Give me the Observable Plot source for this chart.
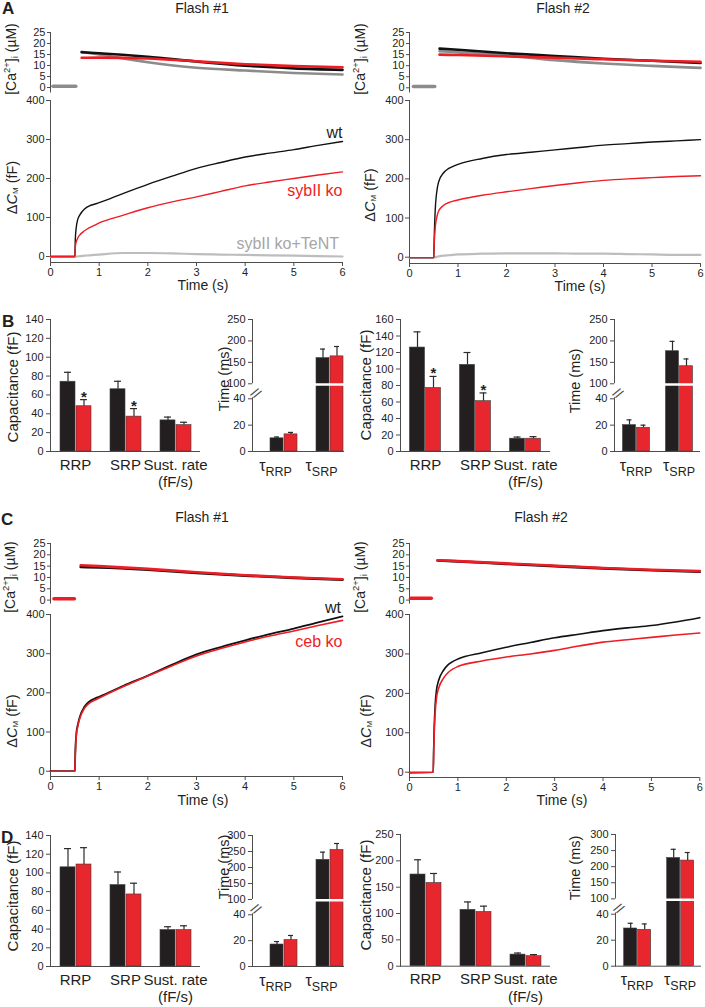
<!DOCTYPE html>
<html><head><meta charset="utf-8">
<script src="https://cdn.jsdelivr.net/npm/d3@7"></script>
<script src="https://cdn.jsdelivr.net/npm/@observablehq/plot@0.6"></script>
<style>
html,body{margin:0;padding:0;background:#fff;}
#fig{position:relative;width:705px;height:1007px;overflow:hidden;background:#fff;}
#fig svg{position:absolute;}
</style></head><body><div id="fig"></div>
<script>
// ---------------- DATA ----------------
// capacitance traces (fF) sampled at these times (s)
const capT = [0,0.49,0.5,0.51,0.53,0.56,0.6,0.7,0.8,0.9,1,1.5,2,2.5,3,3.5,4,4.5,5,5.5,6];
const capA1_wt   = [0,0,2,45,75,95,106,122,130,134,138,162,185,206,226,241,255,265,274,285,295];
const capA1_ko   = [0,0,2,25,38,47,55,66,74,80,86,106,125,140,153,167,181,191,200,209,217];
const capA1_tent = [-1,-1,-1,-1,0,0,1,2,3,4,5,9,9,8,6,5,4,3,2,1,0];
const capA2_wt   = [-1,-1,0,50,120,165,192,215,226,232,237,252,262,268,274,280,286,290,294,297,300];
const capA2_ko   = [-1,-1,0,35,75,100,118,132,139,143,146,158,167,175,183,190,196,200,203,206,208];
const capA2_tent = [-2,-2,-2,-1,0,1,2,4,5,6,7,9,10,10,10,9,9,8,7,6,6];
const capC1_wt   = [0,0,2,50,95,118,138,165,178,185,190,218,244,272,298,317,334,350,364,380,395];
const capC1_ko   = [0,0,2,45,90,114,134,161,174,181,187,216,243,269,294,313,330,345,358,372,385];
const capC2_wt   = [-1,0,60,110,170,210,232,258,273,281,287,303,317,329,341,350,359,366,372,381,392];
const capC2_ko   = [-1,0,50,95,150,190,212,238,253,262,268,282,292,300,309,320,330,336,342,348,353];

// [Ca2+]i traces (µM)
const caT_A1 = [0.64,1,2,3,4,5,6];
const caA1_wt   = [16,15.6,14,11.8,9.9,8.7,8];
const caA1_ko   = [13.5,13.6,13.2,11.9,10.6,9.7,9.2];
const caA1_tent = [16.2,15,11.5,9,7.7,6.6,5.9];
const caT_A2 = [0.62,1,2,3,4,5,6];
const caA2_wt   = [17.7,17.2,15.6,14.4,13.1,12.2,11.2];
const caA2_ko   = [15,14.8,14.2,13.6,12.9,12.2,11.8];
const caA2_tent = [16.5,16,14.6,12.5,11,9.9,9];
const caT_C1 = [0.62,1,2,3,4,5,6];
const caC1_wt = [14.6,14.4,13.4,12,10.8,9.8,9];
const caC1_ko = [15.4,15,13.8,12.3,11,10,9.2];
const caT_C2 = [0.58,1,2,3,4,5,6];
const caC2_wt = [17.5,17.1,16,15,14,13.2,12.5];
const caC2_ko = [17.6,17.2,16.2,15.2,14.2,13.4,12.8];
// pre-flash baseline [Ca2+]i
const baseT_A1 = [0.05,0.52], baseV_A1 = [0.6,0.6];
const baseT_A2 = [0.08,0.52], baseV_A2 = [0.6,0.6];
const baseT_C1 = [0.07,0.49], baseV_C1 = [0.6,0.6];
const baseT_C2 = [0.02,0.45], baseV_C2 = [0.8,0.8];

// bar charts
const poolCats = ["RRP","SRP","Sust"];
const tauCats = ["τRRP","τSRP"];
const genotypes = ["wt","ko"];
// B (sybII), flash #1
const bF1Cap_wt = [74,66,33],   bF1Cap_wtE = [10,8.5,3.5];
const bF1Cap_ko = [48,37,28],   bF1Cap_koE = [7,8.5,3];
const bF1Cap_sig = [true,true,false];
const bF1Tau_wt = [10,160],     bF1Tau_wtE = [1,21];
const bF1Tau_ko = [13,164],     bF1Tau_koE = [1.5,23];
// B, flash #2
const bF2Cap_wt = [126,105,15.5], bF2Cap_wtE = [19,15,2];
const bF2Cap_ko = [77,61,15.5],   bF2Cap_koE = [14,10,2.5];
const bF2Cap_sig = [true,true,false];
const bF2Tau_wt = [20,176],     bF2Tau_wtE = [4,23];
const bF2Tau_ko = [18,141],     bF2Tau_koE = [2,17];
// D (ceb), flash #1
const dF1Cap_wt = [106,87,39],  dF1Cap_wtE = [20,14,3.5];
const dF1Cap_ko = [109,77,39],  dF1Cap_koE = [18,12,4.5];
const dF1Cap_sig = [false,false,false];
const dF1Tau_wt = [17,224],     dF1Tau_wtE = [2.3,24];
const dF1Tau_ko = [20.5,255],   dF1Tau_koE = [3.5,20];
// D, flash #2
const dF2Cap_wt = [174,107,22], dF2Cap_wtE = [28,15,3];
const dF2Cap_ko = [158,103,19], dF2Cap_koE = [18,11,3];
const dF2Cap_sig = [false,false,false];
const dF2Tau_wt = [29,227],     dF2Tau_wtE = [4,27];
const dF2Tau_ko = [28,219],     dF2Tau_koE = [4.5,25];

const caTicks = [0,5,10,15,20,25];
const capTicks = [0,100,200,300,400];
const timeTicks = [0,1,2,3,4,5,6];
const ticks140 = [0,20,40,60,80,100,120,140];
const ticks160 = [0,20,40,60,80,100,120,140,160];
const ticks250 = [0,50,100,150,200,250];
const tauTicks250 = [0,20,40,100,150,200,250];
const tauTicks300 = [0,20,40,100,150,200,250,300];

// ---------------- STYLE ----------------
const FONT = "'Liberation Sans', Arial, Helvetica, sans-serif";
const AXIS = "#4d4d4d", TXT = "#231f20";
const TR_BLK = "#111111", TR_RED = "#ee1c24", CA_GRAY = "#8c8c8c", TENT = "#bdbdbd";
const BAR_BLK = "#231f20", BAR_RED = "#e8262d", ERR = "#2a2a2a";
const fig = document.getElementById("fig");
const style = {fontFamily: FONT, fontSize: "11px", color: TXT, background: "transparent", overflow: "visible"};
const ser = (ts, vs) => ts.map((t, i) => ({t, v: vs[i]}));
function place(svg, left, top) { svg.style.left = left + "px"; svg.style.top = top + "px"; fig.appendChild(svg); }

// ---------------- TRACE PANELS ----------------
function tracePanel(o) {
  const ml = o.axisX - o.left, mr = o.left + o.width - o.endX;
  const caMt = 7;
  const caMin = -(o.caBot - o.caZero) * 25 / (o.caZero - o.caTop);
  const ca = Plot.plot({
    width: o.width, height: caMt + (o.caBot - o.caTop),
    marginLeft: ml, marginRight: mr, marginTop: caMt, marginBottom: 0, style,
    x: {domain: [0, 6], axis: null},
    y: {domain: [caMin, 25]},
    marks: [
      Plot.ruleX([0], {y1: caMin, y2: 25, stroke: AXIS}),
      Plot.axisY({ticks: caTicks, tickSize: 3, tickPadding: 2, label: null, stroke: AXIS}),
      Plot.line(o.base, {x: "t", y: "v", stroke: o.baseColor, strokeWidth: 3.5}),
      ...o.ca.map(s => Plot.line(s.data, {x: "t", y: "v", stroke: s.color, strokeWidth: 2.6, curve: "monotone-x"}))
    ]
  });
  place(ca, o.left, o.caTop - caMt);

  const mt = 8, mb = 38;
  const capMin = -(o.xAxisY - o.capZero) * 400 / (o.capZero - o.capTop);
  const cap = Plot.plot({
    width: o.width, height: mt + (o.xAxisY - o.capTop) + mb,
    marginLeft: ml, marginRight: mr, marginTop: mt, marginBottom: mb, style,
    x: {domain: [0, 6]},
    y: {domain: [capMin, 400]},
    marks: [
      Plot.ruleX([0], {y1: capMin, y2: 400, stroke: AXIS}),
      Plot.ruleY([capMin], {stroke: AXIS}),
      Plot.axisY({ticks: capTicks, tickSize: 4, tickPadding: 2, label: null, stroke: AXIS}),
      Plot.axisX({ticks: timeTicks, tickFormat: d => String(d), tickSize: 4, tickPadding: 2, label: null, stroke: AXIS}),
      ...o.cap.map(s => Plot.line(s.data, {x: "t", y: "v", stroke: s.color, strokeWidth: s.w || 1.4, curve: "monotone-x"})),
      ...o.labels.map(l => Plot.text([l], {x: "t", y: "v", text: "text", fill: l.color, textAnchor: "end", fontSize: 16}))
    ]
  });
  place(cap, o.left, o.capTop - mt);
}

tracePanel({
  left: 0, width: 352, axisX: 50, endX: 342,
  caTop: 32, caZero: 87, caBot: 92.5, capTop: 100, capZero: 256, xAxisY: 262,
  base: ser(baseT_A1, baseV_A1), baseColor: CA_GRAY,
  ca: [{data: ser(caT_A1, caA1_tent), color: CA_GRAY}, {data: ser(caT_A1, caA1_wt), color: TR_BLK}, {data: ser(caT_A1, caA1_ko), color: TR_RED}],
  cap: [{data: ser(capT, capA1_tent), color: TENT, w: 2.2}, {data: ser(capT, capA1_wt), color: TR_BLK}, {data: ser(capT, capA1_ko), color: TR_RED}],
  labels: [{t: 6, v: 318, text: "wt", color: TXT}, {t: 6, v: 169, text: "sybII ko", color: TR_RED}, {t: 5.93, v: 33, text: "sybII ko+TeNT", color: "#a6a6a6"}]
});
tracePanel({
  left: 352, width: 353, axisX: 409, endX: 700,
  caTop: 32, caZero: 87.3, caBot: 92.5, capTop: 100, capZero: 256.7, xAxisY: 263,
  base: ser(baseT_A2, baseV_A2), baseColor: CA_GRAY,
  ca: [{data: ser(caT_A2, caA2_tent), color: CA_GRAY}, {data: ser(caT_A2, caA2_wt), color: TR_BLK}, {data: ser(caT_A2, caA2_ko), color: TR_RED}],
  cap: [{data: ser(capT, capA2_tent), color: TENT, w: 2.2}, {data: ser(capT, capA2_wt), color: TR_BLK}, {data: ser(capT, capA2_ko), color: TR_RED}],
  labels: []
});
tracePanel({
  left: 0, width: 352, axisX: 50, endX: 342,
  caTop: 542.7, caZero: 599.3, caBot: 603.3, capTop: 614, capZero: 770.7, xAxisY: 776,
  base: ser(baseT_C1, baseV_C1), baseColor: TR_RED,
  ca: [{data: ser(caT_C1, caC1_wt), color: TR_BLK}, {data: ser(caT_C1, caC1_ko), color: TR_RED}],
  cap: [{data: ser(capT, capC1_wt), color: TR_BLK, w: 1.8}, {data: ser(capT, capC1_ko), color: TR_RED, w: 1.6}],
  labels: [{t: 5.97, v: 418, text: "wt", color: TXT}, {t: 6, v: 329, text: "ceb ko", color: TR_RED}]
});
tracePanel({
  left: 352, width: 353, axisX: 409, endX: 699.3,
  caTop: 542.7, caZero: 599.3, caBot: 603.3, capTop: 614, capZero: 771.7, xAxisY: 777,
  base: ser(baseT_C2, baseV_C2), baseColor: TR_RED,
  ca: [{data: ser(caT_C2, caC2_wt), color: TR_BLK}, {data: ser(caT_C2, caC2_ko), color: TR_RED}],
  cap: [{data: ser(capT, capC2_wt), color: TR_BLK, w: 1.6}, {data: ser(capT, capC2_ko), color: TR_RED, w: 1.6}],
  labels: []
});

// ---------------- BAR CHARTS ----------------
const makeBreak = (G, k) => v => v <= 40 ? v : v >= 100 ? 40 + G + (v - 100) * k : 40 + G * (v - 40) / 60;
function rowsOf(cats, wt, wtE, ko, koE, sig) {
  return cats.flatMap((c, i) => [
    {cat: c, g: "wt", v: wt[i], e: wtE[i], sig: false},
    {cat: c, g: "ko", v: ko[i], e: koE[i], sig: sig ? sig[i] : false}
  ]);
}
const catLabel = c => c === "Sust" ? "Sust. rate\n(fF/s)" : c;
function barChart(o) {
  const f = o.brk || (v => v);
  const ml = o.axisX - o.left, mr = 8, mt = 10, mb = 48;
  const width = ml + o.facetStep * o.cats.length + mr;
  const height = mt + (o.yZeroPx - o.yTopPx) + mb;
  const rows = o.rows.map(d => ({...d, y: f(d.v), ye: f(d.v + d.e)}));
  const s = o.barW + o.gap, pI = o.gap / s, pO = (o.facetStep / s - 2 + pI) / 2;
  const labelMap = new Map(o.ticks.map(t => [f(t), String(t)]));
  const marks = [Plot.frame({anchor: "left", facetAnchor: "left", stroke: AXIS})];
  if (o.brk) marks.push(Plot.ruleY([f(70)], {stroke: "white", strokeWidth: 12, facetAnchor: "left", insetLeft: -3}));
  marks.push(
    Plot.ruleY([0], {stroke: AXIS}),
    Plot.barY(rows, {fx: "cat", x: "g", y: "y", fill: "g", stroke: "#3d3d3d", strokeWidth: 0.6}),
    Plot.ruleX(rows, {fx: "cat", x: "g", y1: "y", y2: "ye", stroke: ERR, strokeWidth: 1.2}),
    Plot.tickY(rows, {fx: "cat", x: "g", y: "ye", stroke: ERR, strokeWidth: 1.2, insetLeft: 4, insetRight: 4}),
    Plot.text(rows.filter(d => d.sig), {fx: "cat", x: "g", y: "ye", text: () => "*", fontSize: 15, fontWeight: "bold", lineAnchor: "bottom", dy: 2, fill: TXT}),
    Plot.axisY({ticks: o.ticks.map(f), tickFormat: v => labelMap.get(v), tickSize: 4, tickPadding: 3, label: null, stroke: AXIS}),
    Plot.axisFx({anchor: "bottom", tickSize: 0, tickPadding: 6, fontSize: o.brk ? 16 : 15, label: null, lineHeight: 1.15, tickFormat: catLabel})
  );
  if (o.brk) marks.push(
    Plot.ruleY([f(97)], {stroke: "white", strokeWidth: 2.5}),
    Plot.text([f(70)], {y: d => d, frameAnchor: "left", text: () => "//", facetAnchor: "left", fontSize: 14, rotate: 35, fill: AXIS})
  );
  const svg = Plot.plot({
    width, height, marginLeft: ml, marginRight: mr, marginTop: mt, marginBottom: mb, style,
    fx: {domain: o.cats, paddingInner: 0, paddingOuter: 0},
    x: {domain: genotypes, paddingInner: pI, paddingOuter: pO, align: o.align, axis: null},
    y: {domain: [0, f(o.yMax)]},
    color: {domain: genotypes, range: [BAR_BLK, BAR_RED]},
    marks
  });
  // subscripts for τ labels
  svg.querySelectorAll("text").forEach(t => {
    const str = t.textContent;
    if (t.childElementCount === 0 && str.startsWith("τ") && str.length > 1) {
      t.textContent = "τ";
      const ts = document.createElementNS("http://www.w3.org/2000/svg", "tspan");
      ts.setAttribute("font-size", "12.5");
      ts.setAttribute("dy", "5");
      ts.textContent = str.slice(1);
      t.appendChild(ts);
    }
  });
  place(svg, o.left, o.yTopPx - mt);
}
const brkB = makeBreak(11.4, 0.3254);
const brkD = makeBreak(11.8, 0.2476);

barChart({left: 0, axisX: 50, facetStep: 50, barW: 15, gap: 1, align: 0.5, yTopPx: 319, yZeroPx: 451, yMax: 140, ticks: ticks140, cats: poolCats,
  rows: rowsOf(poolCats, bF1Cap_wt, bF1Cap_wtE, bF1Cap_ko, bF1Cap_koE, bF1Cap_sig)});
barChart({left: 200, axisX: 252, facetStep: 46, barW: 13.7, gap: 1, align: 0.93, yTopPx: 319, yZeroPx: 451, yMax: 250, ticks: tauTicks250, cats: tauCats, brk: brkB,
  rows: rowsOf(tauCats, bF1Tau_wt, bF1Tau_wtE, bF1Tau_ko, bF1Tau_koE)});
barChart({left: 352, axisX: 399.5, facetStep: 50, barW: 15, gap: 1, align: 0.5, yTopPx: 319, yZeroPx: 451, yMax: 160, ticks: ticks160, cats: poolCats,
  rows: rowsOf(poolCats, bF2Cap_wt, bF2Cap_wtE, bF2Cap_ko, bF2Cap_koE, bF2Cap_sig)});
barChart({left: 560, axisX: 613.5, facetStep: 43.5, barW: 13.5, gap: 1, align: 0.54, yTopPx: 319, yZeroPx: 451, yMax: 250, ticks: tauTicks250, cats: tauCats, brk: brkB,
  rows: rowsOf(tauCats, bF2Tau_wt, bF2Tau_wtE, bF2Tau_ko, bF2Tau_koE)});
barChart({left: 0, axisX: 50, facetStep: 50, barW: 15, gap: 1, align: 0.5, yTopPx: 835, yZeroPx: 966, yMax: 140, ticks: ticks140, cats: poolCats,
  rows: rowsOf(poolCats, dF1Cap_wt, dF1Cap_wtE, dF1Cap_ko, dF1Cap_koE, dF1Cap_sig)});
barChart({left: 200, axisX: 252, facetStep: 46, barW: 13.7, gap: 1, align: 0.93, yTopPx: 835, yZeroPx: 966, yMax: 300, ticks: tauTicks300, cats: tauCats, brk: brkD,
  rows: rowsOf(tauCats, dF1Tau_wt, dF1Tau_wtE, dF1Tau_ko, dF1Tau_koE)});
barChart({left: 352, axisX: 400, facetStep: 50, barW: 15, gap: 1, align: 0.5, yTopPx: 834.3, yZeroPx: 966, yMax: 250, ticks: ticks250, cats: poolCats,
  rows: rowsOf(poolCats, dF2Cap_wt, dF2Cap_wtE, dF2Cap_ko, dF2Cap_koE, dF2Cap_sig)});
barChart({left: 560, axisX: 614.3, facetStep: 43.5, barW: 13.5, gap: 1, align: 0.54, yTopPx: 834.3, yZeroPx: 966, yMax: 300, ticks: tauTicks300, cats: tauCats, brk: brkD,
  rows: rowsOf(tauCats, dF2Tau_wt, dF2Tau_wtE, dF2Tau_ko, dF2Tau_koE)});

// ---------------- ANNOTATION TEXT ----------------
const NS = "http://www.w3.org/2000/svg";
const ov = document.createElementNS(NS, "svg");
ov.setAttribute("width", 705); ov.setAttribute("height", 1007);
ov.style.left = "0px"; ov.style.top = "0px"; ov.style.pointerEvents = "none";
ov.setAttribute("font-family", FONT); ov.setAttribute("fill", TXT);
fig.appendChild(ov);
function txt(x, y, html, {size = 14, anchor = "middle", weight = "normal", rot = 0, baseline = "alphabetic"} = {}) {
  const t = document.createElementNS(NS, "text");
  t.setAttribute("transform", `translate(${x},${y})` + (rot ? ` rotate(${rot})` : ""));
  t.setAttribute("text-anchor", anchor);
  t.setAttribute("font-size", size);
  t.setAttribute("font-weight", weight);
  t.setAttribute("dominant-baseline", baseline);
  t.innerHTML = html;
  ov.appendChild(t);
}
[["A", 2, 14], ["B", 2, 327], ["C", 1, 525], ["D", 1, 843]].forEach(([s, x, y]) => txt(x, y, s, {size: 17, anchor: "start", weight: "bold"}));
[["Flash #1", 202, 13], ["Flash #2", 563, 13], ["Flash #1", 202, 522], ["Flash #2", 541, 522]].forEach(([s, x, y]) => txt(x, y, s, {size: 14}));
const caLabel = '[Ca<tspan font-size="9.5" dy="-5">2+</tspan><tspan dy="5">]</tspan><tspan font-size="9.5" dy="3">i</tspan><tspan dy="-3"> (µM)</tspan>';
[[11, 59], [360, 59], [10, 577], [360, 577]].forEach(([x, y]) => txt(x, y, caLabel, {size: 14, rot: -90, baseline: "central"}));
const dcLabel = 'Δ<tspan font-style="italic">C</tspan><tspan font-size="8" dy="3">M</tspan><tspan dy="-3"> (fF)</tspan>';
[[12, 187.5], [370, 195], [12, 721], [366, 721]].forEach(([x, y]) => txt(x, y, dcLabel, {size: 14.5, rot: -90, baseline: "central"}));
[[203, 285], [580, 285.5], [203, 800], [562, 800]].forEach(([x, y]) => txt(x, y, "Time (s)", {size: 14, baseline: "central"}));
[[12.5, 387], [365.5, 385], [12.5, 896], [365, 895]].forEach(([x, y]) => txt(x, y, "Capacitance (fF)", {size: 15, rot: -90, baseline: "central"}));
[[223.5, 379], [575, 381], [223.5, 867], [575, 868]].forEach(([x, y]) => txt(x, y, "Time (ms)", {size: 14.5, rot: -90, baseline: "central"}));
</script></body></html>
